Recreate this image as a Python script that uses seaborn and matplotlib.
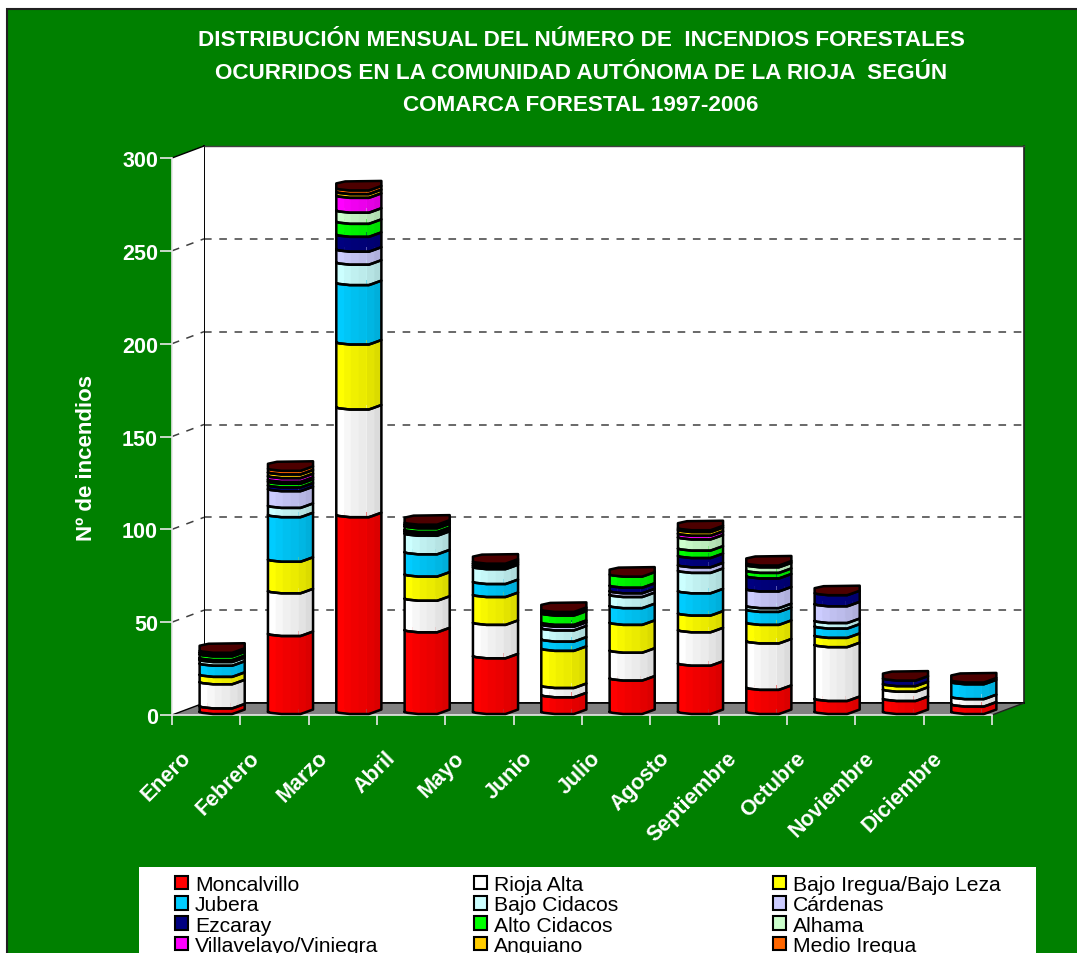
import numpy as np
import pandas as pd
import seaborn as sns
import matplotlib.pyplot as plt
from matplotlib.colors import to_rgb
from matplotlib.lines import Line2D
from matplotlib.patches import Polygon, Rectangle
from matplotlib.transforms import IdentityTransform

meses = ["Enero", "Febrero", "Marzo", "Abril", "Mayo", "Junio", "Julio", "Agosto",
         "Septiembre", "Octubre", "Noviembre", "Diciembre"]

moncalvillo = [3, 42, 106, 44, 30, 9, 18, 26, 13, 7, 7, 4]
rioja_alta = [13, 23, 58, 17, 18, 5, 15, 18, 25, 29, 5, 4]
bajo_iregua = [4, 17, 35, 13, 15, 20, 15, 9, 10, 5, 3, 0]
jubera = [6, 24, 32, 12, 7, 5, 9, 12, 7, 5, 0, 8]
bajo_cidacos = [2, 5, 11, 10, 8, 6, 6, 11, 2, 3, 0, 1]
cardenas = [0, 9, 7, 1, 1, 2, 2, 3, 9, 9, 0, 0]
ezcaray = [1, 2, 8, 1, 1, 1, 3, 5, 7, 6, 3, 0]
alto_cidacos = [2, 2, 7, 2, 1, 5, 6, 4, 3, 0, 0, 0]
alhama = [1, 1, 6, 1, 0, 1, 0, 6, 3, 0, 0, 0]
villavelayo = [0, 2, 8, 0, 0, 1, 0, 2, 0, 0, 0, 0]
anguiano = [0, 2, 2, 1, 0, 0, 0, 2, 1, 0, 0, 0]
medio_iregua = [1, 2, 2, 0, 0, 0, 0, 1, 0, 0, 0, 0]

comarcas = ["Moncalvillo", "Rioja Alta", "Bajo Iregua/Bajo Leza", "Jubera", "Bajo Cidacos",
            "Cárdenas", "Ezcaray", "Alto Cidacos", "Alhama", "Villavelayo/Viniegra",
            "Anguiano", "Medio Iregua"]
series = [moncalvillo, rioja_alta, bajo_iregua, jubera, bajo_cidacos, cardenas, ezcaray,
          alto_cidacos, alhama, villavelayo, anguiano, medio_iregua]
colores = ["#ff0000", "#ffffff", "#ffff00", "#00ccff", "#ccffff", "#ccccff", "#000080",
           "#00ff00", "#ccffcc", "#ff00ff", "#ffcc00", "#ff6600"]
yticks = [0, 50, 100, 150, 200, 250, 300]

titulo = ["DISTRIBUCIÓN MENSUAL DEL NÚMERO DE  INCENDIOS FORESTALES",
          "OCURRIDOS EN LA COMUNIDAD AUTÓNOMA DE LA RIOJA  SEGÚN",
          "COMARCA FORESTAL 1997-2006"]

W, H = 1077, 954
VERDE = "#008000"
GRIS_RAYA = "#404040"
RAYA = (0, (5, 5))

sns.set_style("white")
plt.rcParams["font.family"] = ["Liberation Sans", "DejaVu Sans"]
plt.rcParams["font.weight"] = "bold"

fig = plt.figure(figsize=(W / 100, H / 100), dpi=100, facecolor="white")


def caja(x0, y_top, x1, y_bot, **kw):
    a = fig.add_axes([x0 / W, (H - y_bot) / H, (x1 - x0) / W, (y_bot - y_top) / H], **kw)
    a.set_ylim(0, 300)
    a.set_xlim(-0.5, 11.5)
    return a


def px(x, y):
    return (x, H - y)


def linea(xs, ys, **kw):
    fig.add_artist(Line2D(xs, ys, transform=IdentityTransform(), zorder=1.2, **kw))


# fondo verde y recuadro blanco de la leyenda
fig.add_artist(Rectangle((7 / W, -0.01), 1.1, 1 - 10 / H + 0.01, transform=fig.transFigure,
                         facecolor=VERDE, edgecolor="#202020", linewidth=1.5, zorder=0))
fig.add_artist(Rectangle((139 / W, -0.01), 897 / W, 86 / H + 0.01, transform=fig.transFigure,
                         facecolor="white", edgecolor="none", zorder=0.5))

# pared del fondo
fondo = caja(204, 147, 1024, 704, zorder=1, facecolor="white")
fondo.set_yticks(yticks)
fondo.set_xticks([])
fondo.tick_params(left=False, labelleft=False)
fondo.grid(axis="y", color=GRIS_RAYA, linestyle=RAYA, linewidth=1.1)
for lado, c, g in [("left", "black", 1.4), ("right", "#202020", 1.2), ("top", "#404040", 1),
                   ("bottom", "black", 1.2)]:
    fondo.spines[lado].set_color(c)
    fondo.spines[lado].set_linewidth(g)

# pared lateral y suelo
fig.add_artist(Polygon([px(172, 716), px(204, 704), px(204, 147), px(172, 159)], closed=True,
                       transform=IdentityTransform(), facecolor="white", edgecolor="none",
                       zorder=1.1))
fig.add_artist(Polygon([px(172, 716), px(204, 704), px(1024, 704), px(992, 716)], closed=True,
                       transform=IdentityTransform(), facecolor="#808080", edgecolor="none",
                       zorder=1.1))
linea([172, 204], [H - 716, H - 704], color="black", linewidth=1)
linea([204, 1024], [H - 704, H - 704], color="black", linewidth=1.2)
linea([992, 1024], [H - 716, H - 704], color="#202020", linewidth=1)

# eje delantero: ticks y textos
frente = caja(172, 159, 992, 716, zorder=2, facecolor="none")
for v in yticks[1:]:
    x0, y0 = frente.transData.transform((-0.5, v))
    if v == 300:
        linea([x0, x0 + 32], [y0, y0 + 12], color="black", linewidth=1)
    else:
        linea([x0, x0 + 32], [y0, y0 + 12], color=GRIS_RAYA, linestyle=RAYA, linewidth=1.1)
frente.set_yticks(yticks)
frente.set_yticklabels(yticks, color="white", fontsize=15.5, fontweight="bold")
frente.set_xticks(np.arange(-0.5, 12, 1))
frente.set_xticklabels([])
frente.set_xticks(np.arange(12) - 0.38, minor=True)
frente.set_xticklabels(meses, minor=True, rotation=45, ha="right", va="top",
                       rotation_mode="anchor", color="white", fontsize=15.5, fontweight="bold")
frente.tick_params(axis="x", which="major", bottom=True, length=7.5, width=1.2, color="#e8e8e8")
frente.tick_params(axis="x", which="minor", bottom=True, length=0, pad=23)
frente.tick_params(axis="y", left=True, length=8.6, width=1.2, color="#e8e8e8", pad=1.5)
frente.set_ylabel("Nº de incendios", color="white", fontsize=16, fontweight="bold")
frente.yaxis.set_label_coords(-0.091, 0.463)
for lado in ["top", "right"]:
    frente.spines[lado].set_visible(False)
for lado in ["left", "bottom"]:
    frente.spines[lado].set_color("#e8e8e8")
    frente.spines[lado].set_linewidth(1.2)

# barras apiladas, a media profundidad
ax = caja(188, 153, 1008, 710, zorder=3, facecolor="none")
ax.axis("off")

df = pd.DataFrame(dict(zip(comarcas, series)), index=meses)
UNIDAD = 557 / 300  # pixeles por incendio
PERFIL_X = [0, 0.06, 0.3, 0.72, 0.8, 1]
PERFIL_Y = np.array([3, 3.8, 5, 5, 3.8, 0.5]) / UNIDAD
SOMBRAS = [1.0, 0.97, 0.94, 0.92, 0.89, 0.86]

acumulado = np.zeros(len(meses))
for nombre, color in zip(comarcas, colores):
    sns.barplot(x=meses, y=df[nombre].values, order=meses, color=color, saturation=1, width=0.66,
                bottom=acumulado, linewidth=0, ax=ax, label=nombre, legend=False, errorbar=None,
                zorder=3)
    acumulado = acumulado + df[nombre].values
    rgb = np.array(to_rgb(color))
    for rect in ax.containers[-1]:
        x, w = rect.get_x(), rect.get_width()
        y0, h = rect.get_y(), rect.get_height()
        if h <= 0:
            continue
        xs = x + w * np.array(PERFIL_X)
        # franjas verticales que dan el efecto de cilindro
        cortes = np.linspace(0, 1, len(SOMBRAS) + 1)
        for i, s in enumerate(SOMBRAS):
            tramo = np.unique(np.r_[cortes[i], cortes[i + 1],
                                    [p for p in PERFIL_X if cortes[i] < p < cortes[i + 1]]])
            xt = x + w * tramo
            abajo = y0 - np.interp(tramo, PERFIL_X, PERFIL_Y)
            ax.fill_between(xt, abajo, abajo + h, color=rgb * s, linewidth=0.3, zorder=4,
                            clip_on=False)
        borde_x = np.r_[xs, xs[::-1], xs[0]]
        borde_y = np.r_[y0 - PERFIL_Y, (y0 + h - PERFIL_Y)[::-1], y0 - PERFIL_Y[0]]
        ax.plot(borde_x, borde_y, color="black", linewidth=1.8, zorder=5,
                solid_joinstyle="round", clip_on=False)

# tapa superior de cada barra
for i, total in enumerate(acumulado):
    rect = ax.containers[0][i]
    x, w = rect.get_x(), rect.get_width()
    xs = x + w * np.array(PERFIL_X)
    atras_x = x + w * np.array([1, 0.2, 0])
    atras_y = total + np.array([4.5, 4, 2]) / UNIDAD
    ax.fill(np.r_[xs, atras_x], np.r_[total - PERFIL_Y, atras_y], facecolor="#4d0000",
            edgecolor="black", linewidth=1.8, zorder=6, joinstyle="round", clip_on=False)

ax.set_xlim(-0.5, 11.5)
ax.set_ylim(0, 300)

# titulo
for renglon, y_txt in zip(titulo, [40.5, 73.5, 105.5]):
    fig.text(581 / W, 1 - y_txt / H, renglon, color="white", fontsize=16.2, fontweight="bold",
             ha="center", va="center")

# leyenda, una por columna para fijar su posicion como en el original
marcas = [Rectangle((0, 0), 1, 1, facecolor=c, edgecolor="black", linewidth=1.5) for c in colores]
for col, x_col in enumerate([175, 474, 773]):
    fig.legend(marcas[col::3], comarcas[col::3], frameon=False, loc="upper left",
               bbox_to_anchor=(x_col / W, 1 - 876 / H),
               prop={"family": "Liberation Sans", "size": 15.2, "weight": "normal"},
               labelcolor="black", handlelength=0.62, handleheight=0.6, handletextpad=0.33,
               labelspacing=0.06, borderpad=0, borderaxespad=0)

fig.savefig("out.png", dpi=100, facecolor=fig.get_facecolor())
